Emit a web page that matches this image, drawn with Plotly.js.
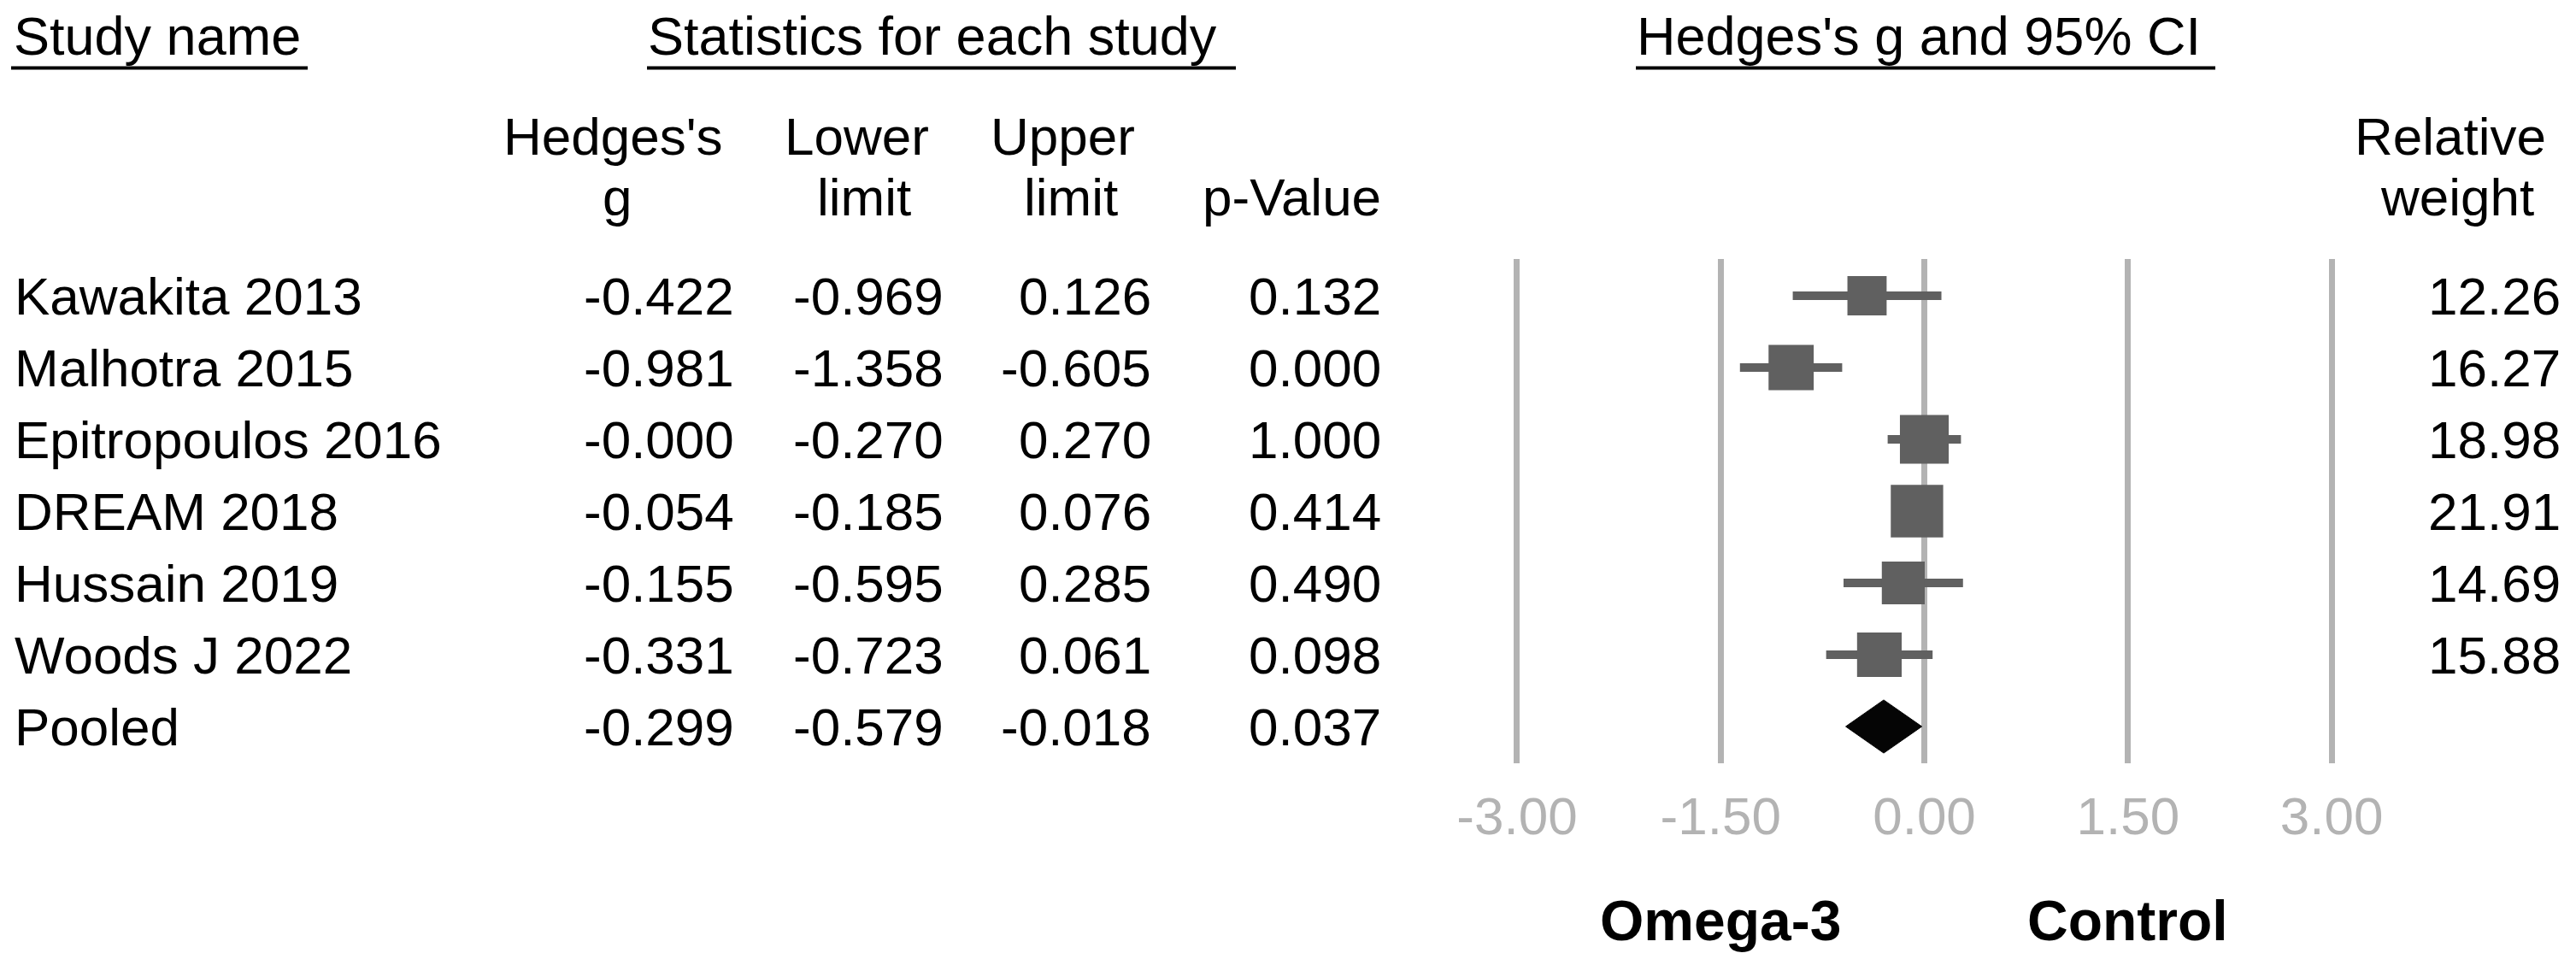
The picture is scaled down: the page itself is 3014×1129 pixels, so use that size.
<!DOCTYPE html>
<html>
<head>
<meta charset="utf-8">
<script src="https://cdn.plot.ly/plotly-3.0.1.min.js"></script>
<style>
  html, body { margin: 0; padding: 0; background: #ffffff; }
  #chart { width: 3014px; height: 1129px; }
</style>
</head>
<body>
<div id="chart"></div>
<script>
// ---------------- DATA ----------------
const studies      = ["Kawakita 2013", "Malhotra 2015", "Epitropoulos 2016", "DREAM 2018", "Hussain 2019", "Woods J 2022"];
const hedgesG      = [-0.422, -0.981, -0.000, -0.054, -0.155, -0.331];
const lowerLimit   = [-0.969, -1.358, -0.270, -0.185, -0.595, -0.723];
const upperLimit   = [0.126, -0.605, 0.270, 0.076, 0.285, 0.061];
const pValues      = [0.132, 0.000, 1.000, 0.414, 0.490, 0.098];
const relWeights   = [12.26, 16.27, 18.98, 21.91, 14.69, 15.88];

const pooledName   = "Pooled";
const pooledG      = -0.299;
const pooledLower  = -0.579;
const pooledUpper  = -0.018;
const pooledP      = 0.037;

const tickValues   = [-3, -1.5, 0, 1.5, 3];
const tickLabels   = ["-3.00", "-1.50", "0.00", "1.50", "3.00"];

const headerTitles = ["Study name", "Statistics for each study", "Hedges's g and 95% CI"];
const favourLabels = ["Omega-3", "Control"];
const favourAt     = [-1.5, 1.5];

// ---------------- LAYOUT HELPERS ----------------
const W = 3014, H = 1129;
const FONT = "Liberation Sans, Arial, Helvetica, sans-serif";
const fmt3 = v => ((v < 0 || Object.is(v, -0)) ? "-" : "") + Math.abs(v).toFixed(3);
const fmt2 = v => v.toFixed(2);

function txt(text, px, py, anchor, extra) {
  return Object.assign({
    text: text, x: px / W, y: 1 - py / H, xref: "paper", yref: "paper",
    xanchor: anchor, yanchor: "middle", showarrow: false, borderpad: 0,
    font: { family: FONT, size: 62, color: "#000000" }
  }, extra || {});
}

const rowY = i => 346 + 84 * i;   // pixel centre of each row (text)
const rows = studies.map((_, i) => i);
const pooledRow = studies.length;

const annotations = [];
// top headers
const headerLeft = [15, 757, 1914];
headerTitles.forEach((t, k) => annotations.push(txt(t, headerLeft[k], 42, "left", { font: { family: FONT, size: 63, color: "#000" } })));

// column headers
annotations.push(txt("Hedges's", 717, 159, "center"));
annotations.push(txt("g", 722, 230, "center"));
annotations.push(txt("Lower", 1002, 159, "center"));
annotations.push(txt("limit", 1011, 230, "center"));
annotations.push(txt("Upper", 1243, 159, "center"));
annotations.push(txt("limit", 1253, 230, "center"));
annotations.push(txt("p-Value", 1511, 230, "center"));
annotations.push(txt("Relative", 2867, 159, "center"));
annotations.push(txt("weight", 2875, 230, "center"));

// table rows
const colRight = [860, 1105, 1348, 1617];
studies.forEach((s, i) => {
  const y = rowY(i);
  annotations.push(txt(s, 16, y, "left"));
  annotations.push(txt(fmt3(hedgesG[i]), colRight[0], y, "right"));
  annotations.push(txt(fmt3(lowerLimit[i]), colRight[1], y, "right"));
  annotations.push(txt(fmt3(upperLimit[i]), colRight[2], y, "right"));
  annotations.push(txt(fmt3(pValues[i]), colRight[3], y, "right"));
  annotations.push(txt(fmt2(relWeights[i]), 2997, y, "right"));
});
{
  const y = rowY(pooledRow);
  annotations.push(txt(pooledName, 16, y, "left"));
  annotations.push(txt(fmt3(pooledG), colRight[0], y, "right"));
  annotations.push(txt(fmt3(pooledLower), colRight[1], y, "right"));
  annotations.push(txt(fmt3(pooledUpper), colRight[2], y, "right"));
  annotations.push(txt(fmt3(pooledP), colRight[3], y, "right"));
}

// favours labels (placed on the effect axis)
favourLabels.forEach((t, k) => annotations.push({
  text: "<b>" + t + "</b>", x: favourAt[k], xref: "x", y: 1 - 1077 / H, yref: "paper",
  xanchor: "center", yanchor: "middle", showarrow: false, borderpad: 0,
  font: { family: FONT, size: 66, color: "#000" }
}));

// underlines of top headers
const underl = [[13, 360], [757, 1446], [1914, 2592]];
const shapes = underl.map(u => ({
  type: "line", xref: "paper", yref: "paper",
  x0: u[0] / W, x1: u[1] / W, y0: 1 - 79.5 / H, y1: 1 - 79.5 / H,
  line: { color: "#000000", width: 4 }
}));

// ---------------- TRACES ----------------
const studyTrace = {
  type: "scatter", mode: "markers",
  x: hedgesG, y: rows,
  marker: {
    symbol: "square", color: "#606060", opacity: 1,
    size: relWeights.map(w => 13.1 * Math.sqrt(w)),
    line: { width: 0 }
  },
  error_x: {
    type: "data", symmetric: false,
    array: upperLimit.map((u, i) => u - hedgesG[i]),
    arrayminus: lowerLimit.map((l, i) => hedgesG[i] - l),
    color: "#606060", thickness: 10, width: 0
  },
  hoverinfo: "skip", showlegend: false
};

const dh = 0.37;
const pooledTrace = {
  type: "scatter", mode: "lines",
  x: [pooledLower, pooledG, pooledUpper, pooledG, pooledLower],
  y: [pooledRow, pooledRow - dh, pooledRow, pooledRow + dh, pooledRow],
  fill: "toself", fillcolor: "#050505",
  line: { color: "#050505", width: 1 },
  hoverinfo: "skip", showlegend: false
};

const layout = {
  width: W, height: H,
  margin: { l: 0, r: 0, t: 0, b: 0, pad: 0 },
  paper_bgcolor: "#ffffff", plot_bgcolor: "#ffffff",
  showlegend: false,
  xaxis: {
    domain: [1700 / W, 2800 / W], range: [-3.472, 3.453],
    tickmode: "array", tickvals: tickValues, ticktext: tickLabels,
    showgrid: true, gridcolor: "#b3b3b3", gridwidth: 7,
    zeroline: false, showline: false, ticks: "",
    ticklabelstandoff: 20,
    tickfont: { family: FONT, size: 62, color: "#b3b3b3" },
    fixedrange: true
  },
  yaxis: {
    domain: [1 - 893 / H, 1 - 303 / H], range: [6.512, -0.512],
    showgrid: false, zeroline: false, showline: false,
    showticklabels: false, ticks: "", fixedrange: true
  },
  annotations: annotations,
  shapes: shapes
};

Plotly.newPlot("chart", [studyTrace, pooledTrace], layout, { staticPlot: true, displayModeBar: false });
</script>
</body>
</html>
